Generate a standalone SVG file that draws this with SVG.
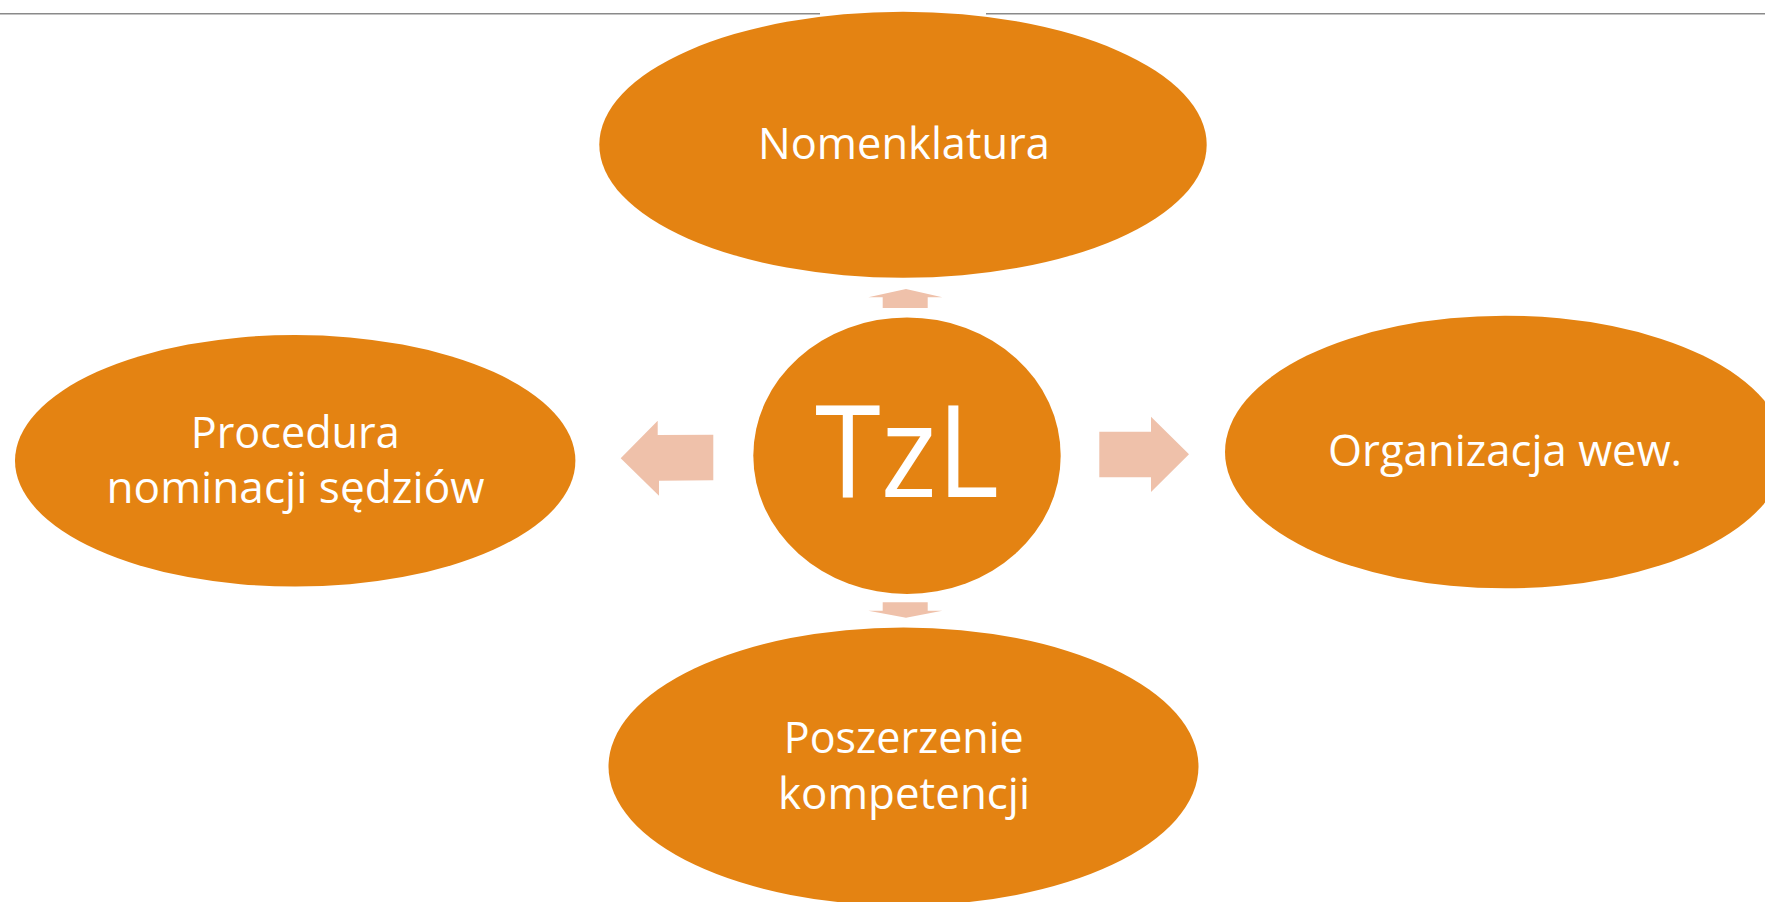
<svg xmlns="http://www.w3.org/2000/svg" width="1765" height="902" viewBox="0 0 1765 902">
<style>
.node{fill:#E48312}
.lbl{font-family:"Open Sans","Noto Sans","Liberation Sans",sans-serif;font-size:43.5px;fill:#FFFFFF;text-anchor:middle}
.big{font-size:129px}
.arr{fill:#EFC1AA}
</style>
<rect x="0" y="0" width="1765" height="902" fill="#FFFFFF"/>
<g id="topline">
<rect x="0" y="13" width="820" height="1" fill="#8A8A8A"/>
<rect x="0" y="14" width="820" height="1" fill="#C4C4C4"/>
<rect x="986" y="13" width="779" height="1" fill="#8A8A8A"/>
<rect x="986" y="14" width="779" height="1" fill="#C4C4C4"/>
</g>
<g id="connectors">
<polygon class="arr" points="906,289 942.3,297.3 927.7,297.3 927.7,308 882.7,308 882.7,297.3 868.3,297.3"/>
<polygon class="arr" points="882.7,602.3 927.7,602.3 927.7,610.7 942.3,610.7 906,617.7 868.3,610.7 882.7,610.7"/>
<polygon class="arr" points="620.7,458.3 657.7,420.7 657.7,435 713.3,434.7 713.3,480.3 659,480.7 659,495.7"/>
<polygon class="arr" points="1099.3,431.7 1151,431.7 1151,416.7 1189,454.3 1151,492 1151,477.3 1099.3,477.3"/>
</g>
<g id="node-nomenklatura">
<ellipse class="node" cx="903" cy="144.7" rx="303.7" ry="133"/>
<text class="lbl" x="904" y="159.3" textLength="292" lengthAdjust="spacingAndGlyphs">Nomenklatura</text>
</g>
<g id="node-procedura">
<ellipse class="node" cx="295.2" cy="460.8" rx="280.2" ry="125.8"/>
<text class="lbl" x="295.2" y="447.7" textLength="209" lengthAdjust="spacingAndGlyphs">Procedura</text>
<text class="lbl" x="295.5" y="503.3" textLength="378" lengthAdjust="spacingAndGlyphs">nominacji sędziów</text>
</g>
<g id="node-tzl">
<ellipse class="node" cx="907" cy="455.7" rx="153.7" ry="138.3"/>
<text class="lbl big" x="907" y="496.7" textLength="184" lengthAdjust="spacingAndGlyphs">TzL</text>
</g>
<g id="node-organizacja">
<ellipse class="node" cx="1505" cy="452" rx="280" ry="136.3"/>
<text class="lbl" x="1505" y="465.7" textLength="354" lengthAdjust="spacingAndGlyphs">Organizacja wew.</text>
</g>
<g id="node-poszerzenie">
<ellipse class="node" cx="903.5" cy="766.5" rx="295" ry="139"/>
<text class="lbl" x="903.8" y="753.3" textLength="240" lengthAdjust="spacingAndGlyphs">Poszerzenie</text>
<text class="lbl" x="904" y="809" textLength="252" lengthAdjust="spacingAndGlyphs">kompetencji</text>
</g>
</svg>
